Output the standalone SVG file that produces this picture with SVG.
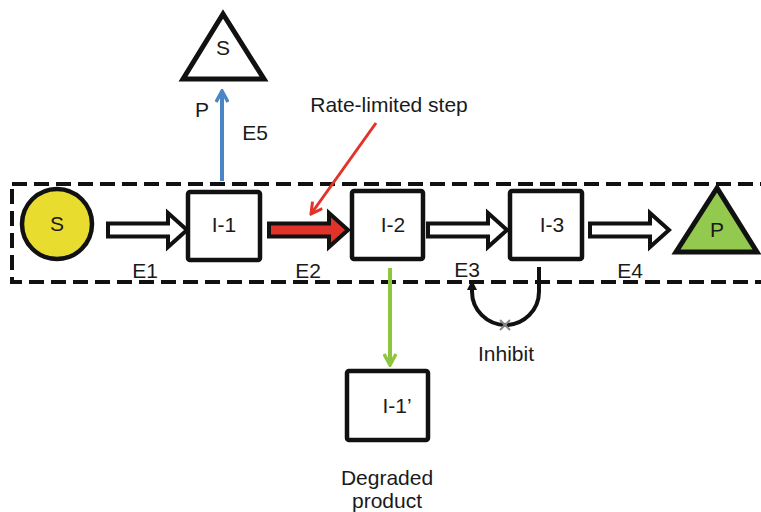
<svg xmlns="http://www.w3.org/2000/svg" width="761" height="512" viewBox="0 0 761 512">
<style>
text{font-family:"Liberation Sans",Arial,sans-serif;font-size:21px;fill:#1a1a1a;text-anchor:middle}
.box{fill:#fff;stroke:#111;stroke-width:4.5}
.blk{stroke:#111;stroke-width:4;stroke-linejoin:miter}
.dash{fill:none;stroke:#111;stroke-width:4;stroke-dasharray:15 7}
</style>
<defs>
<path id="blockArrow" d="M0,-6.5 L60,-6.5 L60,-17 L79,0 L60,17 L60,6.5 L0,6.5 Z"/>
<marker id="hBlue" viewBox="0 0 14 14" refX="12" refY="7" markerWidth="14" markerHeight="14" markerUnits="userSpaceOnUse" orient="auto">
<path d="M1,1 L12,7 L1,13" fill="none" stroke="#4a86c5" stroke-width="3.5"/>
</marker>
<marker id="hRed" viewBox="0 0 14 14" refX="12" refY="7" markerWidth="14" markerHeight="14" markerUnits="userSpaceOnUse" orient="auto">
<path d="M1,1 L12,7 L1,13" fill="none" stroke="#e2332a" stroke-width="3"/>
</marker>
<marker id="hGreen" viewBox="0 0 14 14" refX="12" refY="7" markerWidth="14" markerHeight="14" markerUnits="userSpaceOnUse" orient="auto">
<path d="M1,1 L12,7 L1,13" fill="none" stroke="#8dc63f" stroke-width="3.5"/>
</marker>
<marker id="hBlack" viewBox="0 0 10 10" refX="8" refY="5" markerWidth="10" markerHeight="10" markerUnits="userSpaceOnUse" orient="auto">
<path d="M0,0 L10,5 L0,10 Z" fill="#111"/>
</marker>
</defs>

<rect class="dash" x="12" y="184" width="770" height="98"/>

<g id="connectors">
<use href="#blockArrow" x="108" y="230" class="blk" fill="#fff"/>
<use href="#blockArrow" x="269" y="230" class="blk" fill="#e2332a"/>
<use href="#blockArrow" x="428" y="230" class="blk" fill="#fff"/>
<use href="#blockArrow" x="590" y="230" class="blk" fill="#fff"/>
<line x1="222" y1="181" x2="222" y2="91" stroke="#4a86c5" stroke-width="4" marker-end="url(#hBlue)"/>
<line x1="376" y1="123" x2="311" y2="214" stroke="#e2332a" stroke-width="3" marker-end="url(#hRed)"/>
<line x1="390" y1="268" x2="390" y2="365" stroke="#8dc63f" stroke-width="4" marker-end="url(#hGreen)"/>
<path d="M539,267 L539,291.5 A33.5,33.5 0 0 1 472,291.5 L472,282" fill="none" stroke="#111" stroke-width="4" marker-end="url(#hBlack)"/>
<path d="M500,320 L510,330 M510,320 L500,330" stroke="#888" stroke-width="2"/>
</g>

<g id="S">
<circle cx="57" cy="224" r="35" fill="#e8dd2f" stroke="#111" stroke-width="4.5"/>
<text x="57" y="231">S</text>
</g>
<g id="I-1">
<rect class="box" x="188" y="192" width="72" height="68" rx="2"/>
<text x="224" y="232">I-1</text>
</g>
<g id="I-2">
<rect class="box" x="352" y="191" width="71" height="68" rx="2"/>
<text x="393" y="232">I-2</text>
</g>
<g id="I-3">
<rect class="box" x="510" y="191" width="72" height="68" rx="2"/>
<text x="552" y="232">I-3</text>
</g>
<g id="P">
<polygon points="717,188 676,252 757,252" fill="#92c94e" stroke="#111" stroke-width="5" stroke-linejoin="miter"/>
<text x="717" y="237">P</text>
</g>
<g id="S-top">
<polygon points="223,14 183,79 264,79" fill="#fff" stroke="#111" stroke-width="5" stroke-linejoin="miter"/>
<text x="223" y="55">S</text>
</g>
<g id="I-1prime">
<rect class="box" x="347" y="371" width="81" height="69" rx="2"/>
<text x="397" y="413">I-1’</text>
</g>

<g id="labels">
<text x="202" y="117">P</text>
<text x="255" y="140">E5</text>
<text x="389" y="112">Rate-limited step</text>
<text x="145" y="278">E1</text>
<text x="308" y="278">E2</text>
<text x="467" y="277">E3</text>
<text x="630" y="278">E4</text>
<text x="506" y="361">Inhibit</text>
<text x="387" y="485">Degraded</text>
<text x="387" y="508">product</text>
</g>
</svg>
